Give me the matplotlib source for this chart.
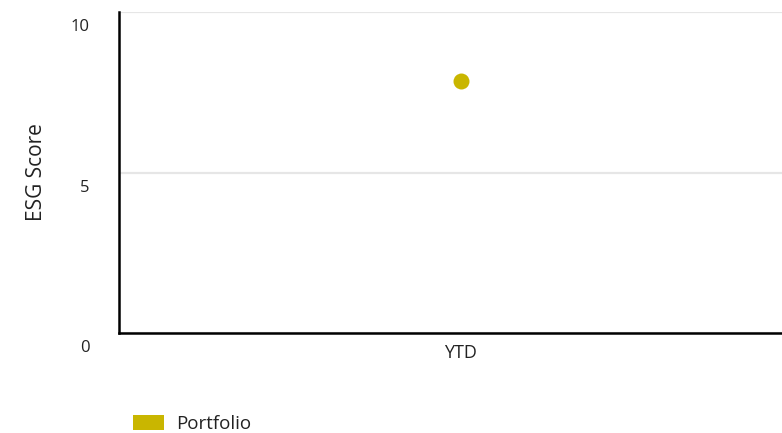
import matplotlib
matplotlib.use("Agg")
import matplotlib.pyplot as plt
import matplotlib.transforms as mtransforms
from matplotlib.patches import Patch

# data
periods = ["YTD"]
portfolio = [7.85]
y_ticks = [0, 5, 10]

GOLD = "#c9b600"
GRID = "#e6e6e6"
TEXT = "#222222"

plt.rcParams.update({"font.family": ["Open Sans", "DejaVu Sans"]})

fig = plt.figure(figsize=(7.82, 4.33), dpi=100)
fig.patch.set_facecolor("white")
ax = fig.add_axes([118.5 / 782, 1 - 333 / 433, 1 - 118.5 / 782, 321 / 433])

ax.plot(range(len(periods)), portfolio, "o", color=GOLD, markersize=11.5,
        markeredgewidth=0, zorder=3, clip_on=False)

ax.set_xlim(-0.5, 0.47)
ax.set_ylim(0, 10)
ax.set_xticks(range(len(periods)))
ax.set_xticklabels(periods)
ax.set_yticks(y_ticks)
ax.grid(axis="y", color=GRID, linewidth=1.6)
ax.set_axisbelow(True)

for s in ("top", "right"):
    ax.spines[s].set_visible(False)
for s in ("left", "bottom"):
    ax.spines[s].set_color("black")
    ax.spines[s].set_linewidth(1.8)

ax.tick_params(axis="both", length=0, colors=TEXT)
ax.tick_params(axis="y", pad=21, labelsize=12)
ax.tick_params(axis="x", pad=8, labelsize=13)
off = mtransforms.ScaledTranslation(0, -5.2 / 72, fig.dpi_scale_trans)
for lab in ax.get_yticklabels():
    lab.set_verticalalignment("top")
    lab.set_transform(lab.get_transform() + off)

ax.set_ylabel("ESG Score", fontsize=15, color=TEXT)
ax.yaxis.set_label_coords(-(118.5 - 47) / 663.5, 0.5)

handles = [Patch(facecolor=GOLD, edgecolor="none", label="Portfolio")]
fig.legend(handles=handles, loc="lower left",
           bbox_to_anchor=(133 / 782, 0),
           frameon=False, fontsize=13.5, handlelength=1.65, handleheight=0.9,
           handletextpad=0.65, borderpad=0, borderaxespad=0, labelcolor=TEXT)

fig.savefig("out.png", facecolor="white")
